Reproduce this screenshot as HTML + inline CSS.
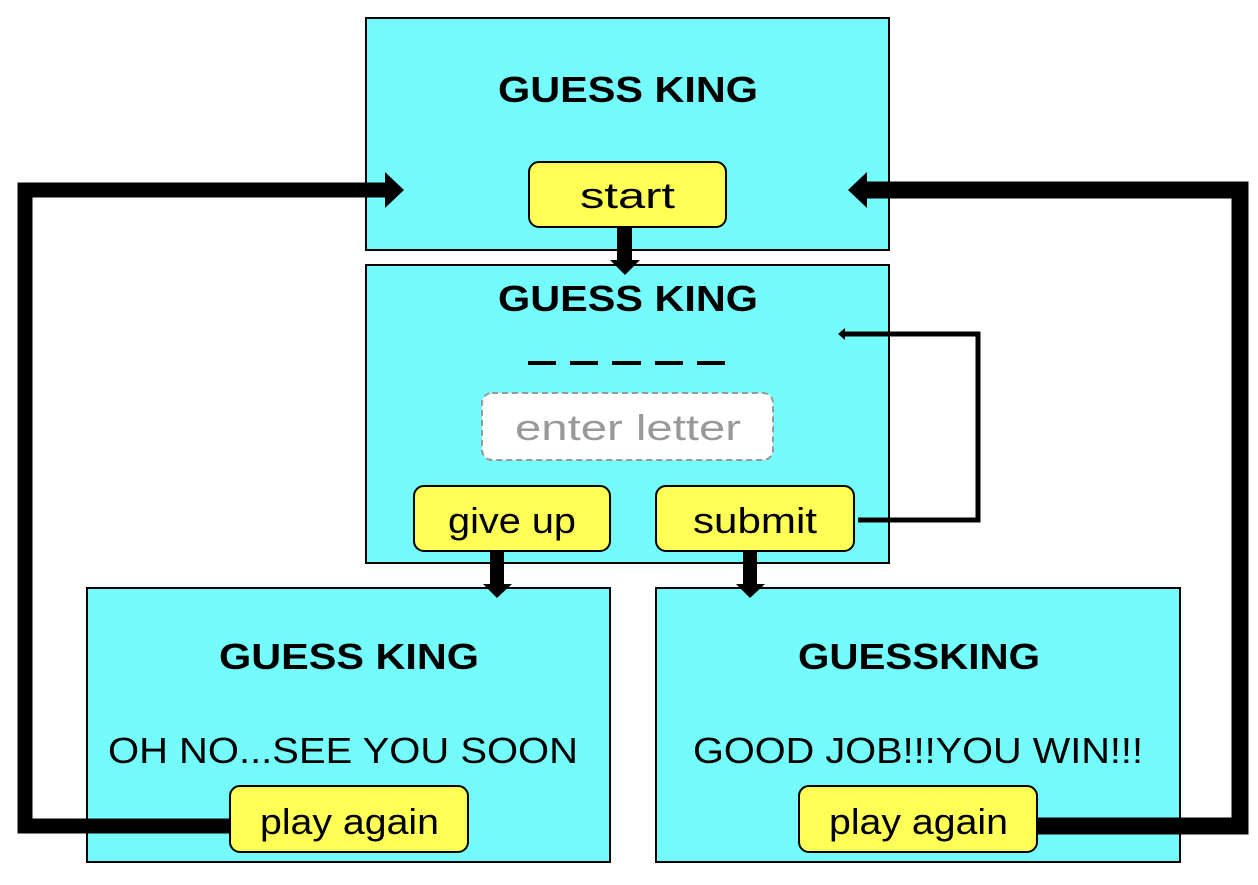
<!DOCTYPE html>
<html><head><style>
body{margin:0;background:#fff;width:1258px;height:880px;overflow:hidden}
svg text{font-family:"Liberation Sans",sans-serif}
</style></head><body>
<svg width="1258" height="880" viewBox="0 0 1258 880">
<g stroke="#000" stroke-width="2" fill="#74fcfd">
<rect x="366" y="18" width="523" height="232"/>
<rect x="366" y="265" width="523" height="298"/>
<rect x="87" y="588" width="523" height="274"/>
<rect x="656" y="588" width="524" height="274"/>
</g>
<polyline points="235,826 25,826 25,190 388,190" fill="none" stroke="#000" stroke-width="15"/>
<polygon points="385,172 404,190 385,208" fill="#000"/>
<polyline points="1035,826 1240,826 1240,190 865,190" fill="none" stroke="#000" stroke-width="17"/>
<polygon points="867,172 848,190 867,208" fill="#000"/>
<polyline points="858,520 978,520 978,334 843,334" fill="none" stroke="#000" stroke-width="5"/>
<polygon points="845,328 838,334 845,340" fill="#000"/>
<rect x="617" y="228" width="15" height="34" fill="#000"/>
<polygon points="610,260 640,260 625,275" fill="#000"/>
<rect x="490" y="551" width="14" height="34" fill="#000"/>
<polygon points="483,584 512,584 497,598" fill="#000"/>
<rect x="743" y="551" width="14" height="34" fill="#000"/>
<polygon points="736,584 765,584 750,598" fill="#000"/>
<g fill="#ffff55" stroke="#000" stroke-width="2">
<rect x="529" y="162" width="197" height="65" rx="10"/>
<rect x="414" y="486" width="196" height="65" rx="10"/>
<rect x="656" y="486" width="198" height="65" rx="10"/>
<rect x="230" y="786" width="238" height="66" rx="10"/>
<rect x="799" y="786" width="238" height="66" rx="10"/>
</g>
<rect x="482" y="393" width="291" height="67" rx="10" fill="#fff" stroke="#999" stroke-width="2" stroke-dasharray="6,4"/>
<g fill="#000" font-weight="bold" font-size="36" lengthAdjust="spacingAndGlyphs">
<text x="498" y="102" textLength="260" lengthAdjust="spacingAndGlyphs">GUESS KING</text>
<text x="498" y="311" textLength="260" lengthAdjust="spacingAndGlyphs">GUESS KING</text>
<text x="219" y="669" textLength="260" lengthAdjust="spacingAndGlyphs">GUESS KING</text>
<text x="798" y="669" textLength="242" lengthAdjust="spacingAndGlyphs">GUESSKING</text>
</g>
<g stroke="#000" stroke-width="4">
<line x1="528" y1="363" x2="556" y2="363"/><line x1="570" y1="363" x2="598" y2="363"/><line x1="612" y1="363" x2="641" y2="363"/><line x1="655" y1="363" x2="683" y2="363"/><line x1="697" y1="363" x2="725" y2="363"/>
</g>
<g font-size="36">
<text x="515" y="440" fill="#999" textLength="226" lengthAdjust="spacingAndGlyphs">enter letter</text>
<text x="580" y="208" textLength="95" lengthAdjust="spacingAndGlyphs">start</text>
<text x="448" y="533" textLength="128" lengthAdjust="spacingAndGlyphs">give up</text>
<text x="693" y="533" textLength="124" lengthAdjust="spacingAndGlyphs">submit</text>
<text x="260" y="834" textLength="179" lengthAdjust="spacingAndGlyphs">play again</text>
<text x="829" y="834" textLength="179" lengthAdjust="spacingAndGlyphs">play again</text>
<text x="108" y="763" textLength="470" lengthAdjust="spacingAndGlyphs">OH NO...SEE YOU SOON</text>
<text x="693" y="763" textLength="450" lengthAdjust="spacingAndGlyphs">GOOD JOB!!!YOU WIN!!!</text>
</g>
</svg>
</body></html>
